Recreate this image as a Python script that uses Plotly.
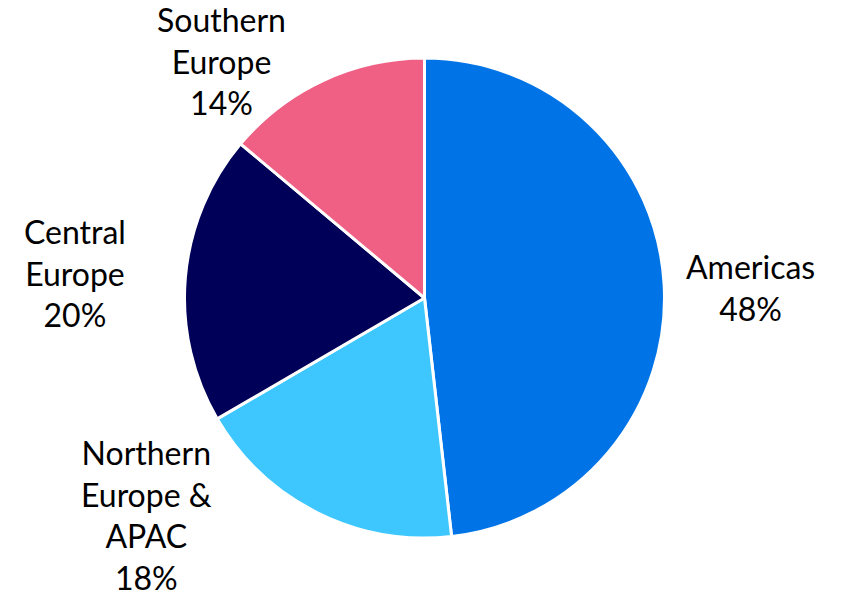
import math
import plotly.graph_objects as go

labels = ["Americas", "Northern<br>Europe &<br>APAC", "Central<br>Europe", "Southern<br>Europe"]
values = [48.2, 18.4, 19.5, 13.9]
colors = ["#0074E6", "#3DC7FE", "#000058", "#F06085"]

# label nudges (pixels) relative to the slice edge at its mid-angle
label_dx = [86, -170, -110, -101]
label_dy = [3, 2, -5, -20]

W, H = 843, 597
M = dict(l=6, r=0, t=58, b=59)
R = (H - M["t"] - M["b"]) / 2.0  # pie radius in px (domain fills plot height)

fig = go.Figure(go.Pie(
    labels=labels,
    values=values,
    sort=False,
    direction="clockwise",
    rotation=0,
    automargin=False,
    marker=dict(colors=colors, line=dict(color="white", width=3)),
    textinfo="none",
    showlegend=False,
    hoverinfo="label+percent",
))

total = sum(values)
cum = 0.0
for lab, v, dx, dy in zip(labels, values, label_dx, label_dy):
    mid = (cum + v / 2.0) / total * 2 * math.pi
    cum += v
    ex = R * math.sin(mid)
    ey = R * math.cos(mid)
    fig.add_annotation(
        x=0.5, y=0.5, xref="paper", yref="paper",
        xshift=ex + dx, yshift=ey - dy,
        text=f"{lab}<br>{round(v / total * 100)}%",
        showarrow=False,
        xanchor="center", yanchor="middle",
        align="center",
        font=dict(family="Lato", size=32, color="black"),
    )

fig.update_layout(
    width=W, height=H,
    margin=dict(**M, autoexpand=False),
    paper_bgcolor="white",
    plot_bgcolor="white",
)

fig.write_html("out.html")
